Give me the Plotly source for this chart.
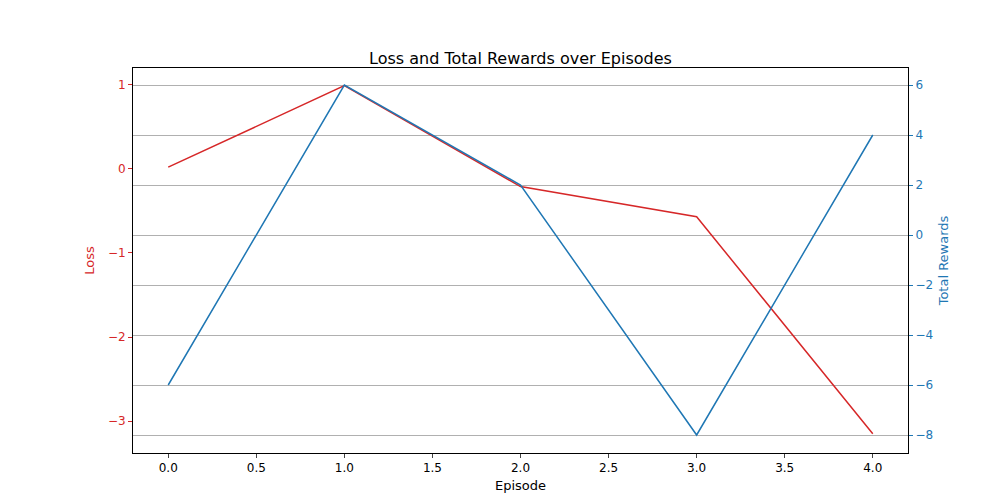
import plotly.graph_objects as go

episodes = [0, 1, 2, 3, 4]
loss = [0.02, 0.99, -0.21, -0.57, -3.15]
rewards = [-6, 6, 2, -8, 4]

RED = "#d62728"
BLUE = "#1f77b4"

fig = go.Figure()
fig.add_trace(go.Scatter(x=episodes, y=loss, mode="lines", line={"color": RED, "width": 1.5}, name="Loss"))
fig.add_trace(go.Scatter(x=episodes, y=rewards, mode="lines", line={"color": BLUE, "width": 1.5},
                         name="Total Rewards", yaxis="y2"))

axis_common = {"showline": True, "linecolor": "black", "ticks": "outside",
               "ticklen": 4, "zeroline": False, "automargin": False}

fig.update_layout(
    width=1000, height=500,
    paper_bgcolor="white", plot_bgcolor="white",
    showlegend=False,
    font={"family": "DejaVu Sans", "size": 12, "color": "black"},
    title={"text": "Loss and Total Rewards over Episodes", "x": 0.5125, "y": 0.91, "xanchor": "center",
           "font": {"size": 16}, "automargin": False},
    margin={"l": 125, "r": 100, "t": 60, "b": 55, "autoexpand": False},
    xaxis={**axis_common, "range": [-0.2, 4.2], "tickvals": [0, 0.5, 1, 1.5, 2, 2.5, 3, 3.5, 4],
           "ticktext": ["0.0", "0.5", "1.0", "1.5", "2.0", "2.5", "3.0", "3.5", "4.0"],
           "showgrid": False, "title": {"text": "Episode", "standoff": 6, "font": {"size": 13}},
           "mirror": True},
    yaxis={**axis_common, "range": [-3.38, 1.2], "showgrid": False,
           "tickcolor": RED, "tickfont": {"color": RED},
           "tickvals": [-3, -2, -1, 0, 1], "ticktext": ["\u22123", "\u22122", "\u22121", "0", "1"],
           "title": {"text": "Loss", "font": {"color": RED, "size": 13}, "standoff": 10}},
    yaxis2={**axis_common, "overlaying": "y", "side": "right", "range": [-8.72, 6.68],
            "showgrid": True, "gridcolor": "#b0b0b0", "tickcolor": BLUE,
            "tickfont": {"color": BLUE},
            "tickvals": [-8, -6, -4, -2, 0, 2, 4, 6],
            "ticktext": ["\u22128", "\u22126", "\u22124", "\u22122", "0", "2", "4", "6"],
            "title": {"text": "Total Rewards", "font": {"color": BLUE, "size": 13}, "standoff": 6}},
)

fig.write_html("out.html")
